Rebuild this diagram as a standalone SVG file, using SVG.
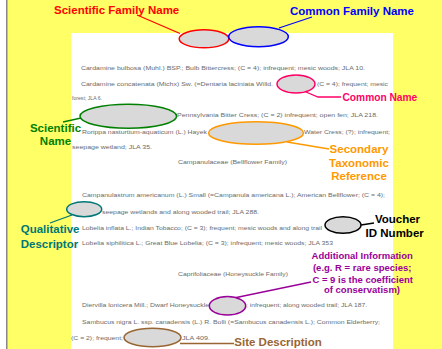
<svg xmlns="http://www.w3.org/2000/svg" width="442" height="349" viewBox="0 0 442 349">
<style>
.lbl{font-family:"Liberation Sans",Arial,sans-serif;font-weight:bold;font-size:11.5px}
.body{font-family:"Liberation Sans",Arial,sans-serif;font-size:6px;fill:#6a6a6a}
.ov{fill:#d9d9d9;stroke-width:1.5}
.cn{fill:none;stroke-width:1.3}
</style>
<rect x="0" y="0" width="442" height="349" fill="#ffff66"/>
<rect x="0" y="0" width="6" height="349" fill="#ffffff"/>
<rect x="6" y="0" width="1.5" height="349" fill="#888888"/>
<rect x="71" y="33" width="322" height="316" fill="#ffffff"/>

<g id="page-text">
<text class="body" x="81" y="70" textLength="284" lengthAdjust="spacingAndGlyphs">Cardamine bulbosa (Muhl.) BSP.; Bulb Bittercress; (C = 4); infrequent; mesic woods; JLA 10.</text>
<text class="body" x="81" y="86" textLength="192" lengthAdjust="spacingAndGlyphs">Cardamine concatenata (Michx) Sw. (=Dentaria laciniata Willd.</text>
<text class="body" x="317" y="86" textLength="71" lengthAdjust="spacingAndGlyphs">(C = 4); frequent; mesic</text>
<text class="body" x="72" y="100" textLength="30" lengthAdjust="spacingAndGlyphs">forest; JLA 6.</text>
<text class="body" x="177" y="117" textLength="201" lengthAdjust="spacingAndGlyphs">Pennsylvania Bitter Cress; (C = 2) infrequent; open fen; JLA 218.</text>
<text class="body" x="82" y="134" textLength="125" lengthAdjust="spacingAndGlyphs">Rorippa nasturtium-aquaticum (L.) Hayek</text>
<text class="body" x="304" y="134" textLength="86" lengthAdjust="spacingAndGlyphs">Water Cress; (?); infrequent;</text>
<text class="body" x="72" y="148.5" textLength="80" lengthAdjust="spacingAndGlyphs">seepage wetland; JLA 35.</text>
<text class="body" x="178" y="164" textLength="109" lengthAdjust="spacingAndGlyphs">Campanulaceae (Bellflower Family)</text>
<text class="body" x="82" y="197" textLength="303" lengthAdjust="spacingAndGlyphs">Campanulastrum americanum (L.) Small (=Campanula americana L.); American Bellflower; (C = 4);</text>
<text class="body" x="102" y="213.5" textLength="157" lengthAdjust="spacingAndGlyphs">seepage wetlands and along wooded trail; JLA 288.</text>
<text class="body" x="82" y="230" textLength="240" lengthAdjust="spacingAndGlyphs">Lobelia inflata L.; Indian Tobacco; (C = 3); frequent; mesic woods and along trail</text>
<text class="body" x="82" y="245" textLength="251" lengthAdjust="spacingAndGlyphs">Lobelia siphilitica L.; Great Blue Lobelia; (C = 3); infrequent; mesic woods; JLA 353</text>
<text class="body" x="178" y="276" textLength="110" lengthAdjust="spacingAndGlyphs">Caprifoliaceae (Honeysuckle Family)</text>
<text class="body" x="82" y="307" textLength="127" lengthAdjust="spacingAndGlyphs">Diervilla lonicera Mill.; Dwarf Honeysuckle</text>
<text class="body" x="246" y="307" textLength="121" lengthAdjust="spacingAndGlyphs">; infrequent; along wooded trail; JLA 187.</text>
<text class="body" x="82" y="323.5" textLength="298" lengthAdjust="spacingAndGlyphs">Sambucus nigra L. ssp. canadensis (L.) R. Bolli (=Sambucus canadensis L.); Common Elderberry;</text>
<text class="body" x="71" y="339.5" textLength="52" lengthAdjust="spacingAndGlyphs">(C = 2); frequent;</text>
<text class="body" x="182" y="339.5" textLength="28" lengthAdjust="spacingAndGlyphs">JLA 409.</text>
</g>

<g id="connectors">
<line class="cn" x1="137" y1="15" x2="180" y2="33.5" stroke="#ff0000"/>
<line class="cn" x1="312" y1="17" x2="279" y2="28" stroke="#0000ff"/>
<polyline class="cn" points="306,92 318,97 341,97" stroke="#ff0066"/>
<line class="cn" x1="63" y1="122" x2="81" y2="118" stroke="#008000"/>
<line class="cn" x1="287" y1="142" x2="329" y2="149" stroke="#ff9900"/>
<line class="cn" x1="50" y1="223" x2="72" y2="215" stroke="#007777"/>
<line class="cn" x1="361" y1="225" x2="374" y2="223" stroke="#000000"/>
<line class="cn" x1="311" y1="282" x2="234" y2="298" stroke="#990099"/>
<line class="cn" x1="180" y1="343.5" x2="234" y2="343.5" stroke="#996633"/>
</g>

<g id="scientific-family-name">
<ellipse class="ov" cx="204" cy="38.8" rx="24.8" ry="9" stroke="#ff0000"/>
<text class="lbl" x="54" y="13.5" fill="#ff0000">Scientific Family Name</text>
</g>
<g id="common-family-name">
<ellipse class="ov" cx="258.5" cy="36.7" rx="29.8" ry="10" stroke="#0000ff"/>
<text class="lbl" x="290" y="14.7" fill="#0000ff">Common Family Name</text>
</g>
<g id="common-name">
<ellipse class="ov" cx="296" cy="84" rx="19" ry="9" stroke="#ff0066"/>
<text class="lbl" x="342.5" y="100.7" fill="#ff0066" style="font-size:10.2px">Common Name</text>
</g>
<g id="scientific-name">
<ellipse class="ov" cx="128.3" cy="116.3" rx="48.3" ry="12" stroke="#008000"/>
<text class="lbl" fill="#008000" text-anchor="middle"><tspan x="55.5" y="131.7">Scientific</tspan><tspan x="55.5" y="145">Name</tspan></text>
</g>
<g id="secondary-taxonomic-reference">
<ellipse class="ov" cx="256" cy="133" rx="47.5" ry="11.3" stroke="#ff9900"/>
<text class="lbl" fill="#ff9900" text-anchor="middle"><tspan x="359" y="153.3">Secondary</tspan><tspan x="359" y="166.7">Taxonomic</tspan><tspan x="359" y="180">Reference</tspan></text>
</g>
<g id="qualitative-descriptor">
<ellipse class="ov" cx="84.2" cy="209.2" rx="17.5" ry="7.5" stroke="#007777"/>
<text class="lbl" fill="#007777"><tspan x="20.7" y="233.3">Qualitative</tspan><tspan x="20.7" y="248.3">Descriptor</tspan></text>
</g>
<g id="voucher-id-number">
<ellipse class="ov" cx="343" cy="225" rx="18" ry="8.3" stroke="#000000"/>
<text class="lbl" fill="#000000" text-anchor="middle"><tspan x="397.5" y="223.3">Voucher</tspan><tspan x="394.7" y="237.3">ID Number</tspan></text>
</g>
<g id="additional-information">
<ellipse class="ov" cx="227.5" cy="305.8" rx="18.2" ry="9.2" stroke="#990099"/>
<text class="lbl" fill="#990099" text-anchor="middle" style="font-size:9.5px"><tspan x="362.2" y="259.3">Additional Information</tspan><tspan x="362.2" y="270.5">(e.g. R = rare species;</tspan><tspan x="362.7" y="282.5">C = 9 is the coefficient</tspan><tspan x="362" y="293">of conservatism)</tspan></text>
</g>
<g id="site-description">
<ellipse class="ov" cx="152.5" cy="337.5" rx="28.5" ry="9.2" stroke="#996633"/>
<text class="lbl" x="234.3" y="346" fill="#996633">Site Description</text>
</g>
</svg>
